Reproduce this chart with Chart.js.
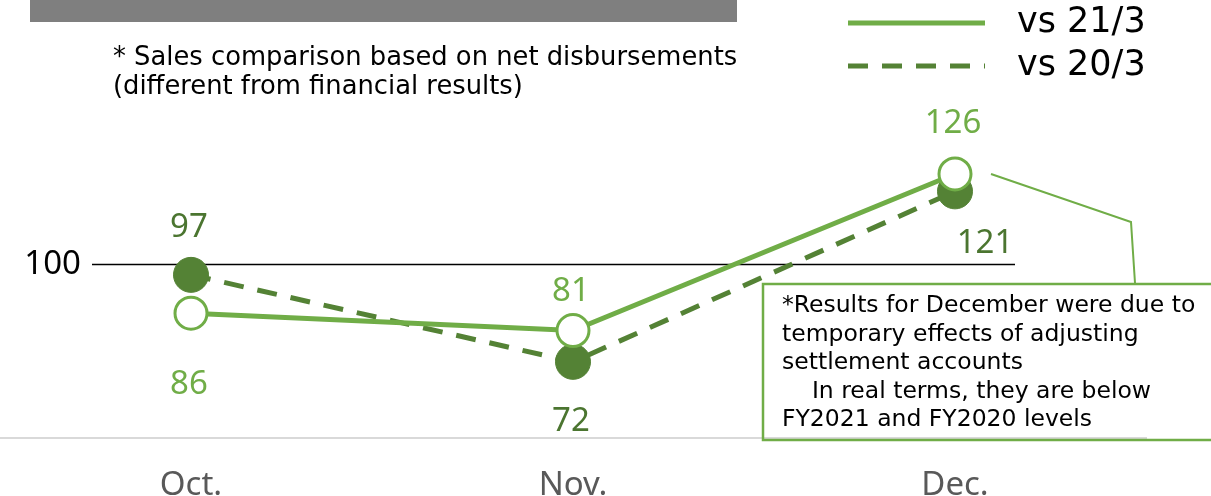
<!DOCTYPE html>
<html>
<head>
<meta charset="utf-8">
<script src="https://cdn.jsdelivr.net/npm/chart.js@4.4.1/dist/chart.umd.min.js"></script>
<style>
  html, body { margin: 0; padding: 0; background: #fff; }
  #wrap { width: 1211px; height: 496px; }
</style>
</head>
<body>
<div id="wrap"><canvas id="sales-chart" width="1211" height="496"></canvas></div>
<script>
// chart data
let months = ['Oct.', 'Nov.', 'Dec.'];
let vs_21_3 = [86, 81, 126];
let vs_20_3 = [97, 72, 121];
let series_names = ['vs 21/3', 'vs 20/3'];
let base_line = 100;

let light_green = '#70AD47';
let dark_green = '#548235';
let num_font = '"Noto Sans", sans-serif';
let text_font = '"DejaVu Sans", sans-serif';

// where each value label sits around its point (dx, dy)
let label_offsets = [
    [[-2, 71], [-2, -39], [-2, -50]],
    [[-2, -47], [-2, 60], [30, 52]]
];

// draws the banner, notes, 100 line, value labels, legend and callout
let extras = {
    id: 'extras',
    beforeDatasetsDraw(chart) {
        let ctx = chart.ctx;
        let y = chart.scales.y.getPixelForValue(base_line);
        ctx.save();
        ctx.strokeStyle = '#000';
        ctx.lineWidth = 1.5;
        ctx.beginPath();
        ctx.moveTo(92, y);
        ctx.lineTo(1015, y);
        ctx.stroke();
        ctx.fillStyle = '#000';
        ctx.font = '33px ' + num_font;
        ctx.textAlign = 'right';
        ctx.textBaseline = 'middle';
        ctx.fillText(String(base_line), 81, y);
        ctx.restore();
    },
    afterDraw(chart) {
        let ctx = chart.ctx;
        ctx.save();

        // gray title banner (cut off at the top)
        ctx.fillStyle = '#7f7f7f';
        ctx.fillRect(30, 0, 707, 22);

        // note text
        ctx.fillStyle = '#000';
        ctx.font = '25.8px ' + text_font;
        ctx.textAlign = 'left';
        ctx.textBaseline = 'middle';
        ctx.fillText('* Sales comparison based on net disbursements', 113, 58);
        ctx.fillText('(different from financial results)', 113, 87);

        // legend
        chart.data.datasets.forEach((ds, i) => {
            let ly = 23 + i * 43;
            ctx.strokeStyle = ds.borderColor;
            ctx.lineWidth = 5;
            ctx.setLineDash(ds.borderDash || []);
            ctx.beginPath();
            ctx.moveTo(848, ly);
            ctx.lineTo(985, ly);
            ctx.stroke();
            ctx.setLineDash([]);
            ctx.fillStyle = '#000';
            ctx.font = '35px ' + text_font;
            ctx.fillText(ds.label, 1017, ly);
        });

        // value labels
        ctx.font = '33px ' + num_font;
        ctx.textAlign = 'center';
        chart.data.datasets.forEach((ds, i) => {
            let meta = chart.getDatasetMeta(i);
            meta.data.forEach((pt, j) => {
                let off = label_offsets[i][j];
                ctx.fillStyle = i == 0 ? light_green : '#4b7530';
                ctx.fillText(String(ds.data[j]), pt.x + off[0], pt.y + off[1]);
            });
        });

        // callout for December
        let dec = chart.getDatasetMeta(0).data[2];
        ctx.strokeStyle = light_green;
        ctx.lineWidth = 2;
        ctx.beginPath();
        ctx.moveTo(dec.x + 36, dec.y);
        ctx.lineTo(1131, 222);
        ctx.lineTo(1135, 283);
        ctx.stroke();
        ctx.lineWidth = 2.5;
        ctx.beginPath();
        ctx.moveTo(1213, 284);
        ctx.lineTo(763, 284);
        ctx.lineTo(763, 440);
        ctx.lineTo(1213, 440);
        ctx.stroke();

        ctx.fillStyle = '#000';
        ctx.font = '23.5px ' + text_font;
        ctx.textAlign = 'left';
        let note = [
            '*Results for December were due to',
            'temporary effects of adjusting',
            'settlement accounts',
            '    In real terms, they are below',
            'FY2021 and FY2020 levels'
        ];
        note.forEach((line, k) => ctx.fillText(line, 782, 306 + k * 28.5));
        ctx.restore();
    }
};

let sales_chart = new Chart(document.getElementById('sales-chart').getContext('2d'), {
    type: 'line',
    data: {
        labels: months,
        datasets: [{
            label: series_names[0],
            data: vs_21_3,
            borderColor: light_green,
            borderWidth: 5,
            pointRadius: 16,
            pointBorderWidth: 3,
            pointBackgroundColor: '#fff',
            pointBorderColor: light_green,
            tension: 0
        }, {
            label: series_names[1],
            data: vs_20_3,
            borderColor: dark_green,
            borderWidth: 5,
            borderDash: [20, 14],
            pointRadius: 17.5,
            pointBorderWidth: 1,
            pointBackgroundColor: dark_green,
            pointBorderColor: dark_green,
            tension: 0
        }]
    },
    options: {
        responsive: false,
        animation: false,
        layout: { autoPadding: false, padding: { left: 0, right: 65, top: 0, bottom: -36 } },
        plugins: { legend: { display: false }, tooltip: { enabled: false } },
        scales: {
            x: {
                offset: true,
                grid: { display: false, drawTicks: false },
                border: { display: true, color: '#d9d9d9', width: 2 },
                ticks: { color: '#595959', font: { family: 'Noto Sans', size: 33 }, padding: 27 }
            },
            y: {
                display: false,
                min: 50,
                max: 176
            }
        }
    },
    plugins: [extras]
});
</script>
</body>
</html>
